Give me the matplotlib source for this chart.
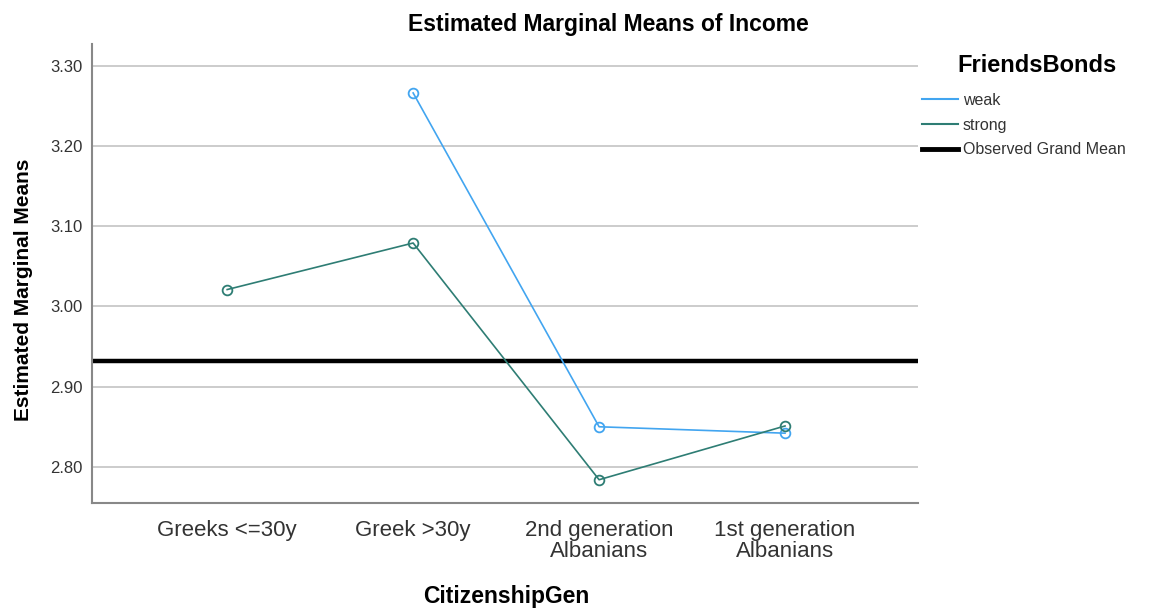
import matplotlib
matplotlib.use("Agg")

import matplotlib.pyplot as plt
from matplotlib.lines import Line2D

plt.rcParams["font.family"] = ["Liberation Sans", "DejaVu Sans"]

# ---------------------------------------------------------------------------
# Data
# ---------------------------------------------------------------------------
categories = ["Greeks <=30y", "Greek >30y", "2nd generation\nAlbanians", "1st generation\nAlbanians"]
weak_x = [1, 2, 3]
weak_means = [3.266, 2.850, 2.842]
strong_x = [0, 1, 2, 3]
strong_means = [3.021, 3.079, 2.784, 2.851]
grand_mean = 2.932
y_ticks = [2.80, 2.90, 3.00, 3.10, 3.20, 3.30]
legend_labels = ["weak", "strong", "Observed Grand Mean"]

WEAK_COLOR = "#42a5f0"
STRONG_COLOR = "#2e7d74"
GRID_COLOR = "#c8c8c8"
TEXT_COLOR = "#333333"

W, H = 1162, 608
fig = plt.figure(figsize=(W / 100, H / 100), dpi=100)
ax = fig.add_axes([92 / W, 1 - 503 / H, (918 - 92) / W, (503 - 44) / H])

for y in y_ticks:
    ax.axhline(y, color=GRID_COLOR, linewidth=1.3, zorder=0)

ax.axhline(grand_mean, color="black", linewidth=3.2, zorder=2)

ax.plot(weak_x, weak_means, color=WEAK_COLOR, linewidth=1.2, marker="o",
        markersize=7, markerfacecolor="none", markeredgewidth=1.3, zorder=3)
ax.plot(strong_x, strong_means, color=STRONG_COLOR, linewidth=1.2, marker="o",
        markersize=7, markerfacecolor="none", markeredgewidth=1.3, zorder=3)

ax.set_xlim(-0.727, 3.715)
ax.set_ylim(2.755, 3.327)
ax.set_yticks(y_ticks)
ax.set_yticklabels([f"{v:.2f}" for v in y_ticks], fontsize=12, color=TEXT_COLOR)
ax.set_xticks(range(len(categories)))
ax.set_xticklabels(categories, fontsize=16, color=TEXT_COLOR, linespacing=1.05)
ax.tick_params(axis="y", length=0, pad=7)
ax.tick_params(axis="x", length=0, pad=12)

for side in ["top", "right"]:
    ax.spines[side].set_visible(False)
for side in ["left", "bottom"]:
    ax.spines[side].set_color("#888888")
    ax.spines[side].set_linewidth(1.5)

fig.text(608 / W, 1 - 25 / H, "Estimated Marginal Means of Income",
         ha="center", va="center", fontsize=16.5, fontweight="bold")
fig.text(506 / W, 1 - 596 / H, "CitizenshipGen",
         ha="center", va="center", fontsize=16.5, fontweight="bold")
fig.text(24 / W, 1 - 290 / H, "Estimated Marginal Means",
         ha="center", va="center", rotation=90, fontsize=15, fontweight="bold")

# legend title drawn separately so it can sit where SPSS puts it
fig.text(1037 / W, 1 - 66 / H, "FriendsBonds",
         ha="center", va="center", fontsize=17, fontweight="bold")

handles = [
    Line2D([], [], color=WEAK_COLOR, linewidth=1.5),
    Line2D([], [], color=STRONG_COLOR, linewidth=1.5),
    Line2D([], [], color="black", linewidth=3.5),
]
leg = fig.legend(handles, legend_labels,
                 loc="upper left", bbox_to_anchor=(922 / W, 1 - 93 / H),
                 frameon=False, fontsize=11.5,
                 handlelength=2.25, handletextpad=0.3, labelspacing=0.6,
                 borderpad=0, borderaxespad=0)
for t in leg.get_texts():
    t.set_color(TEXT_COLOR)

fig.savefig("out.png", dpi=100)
